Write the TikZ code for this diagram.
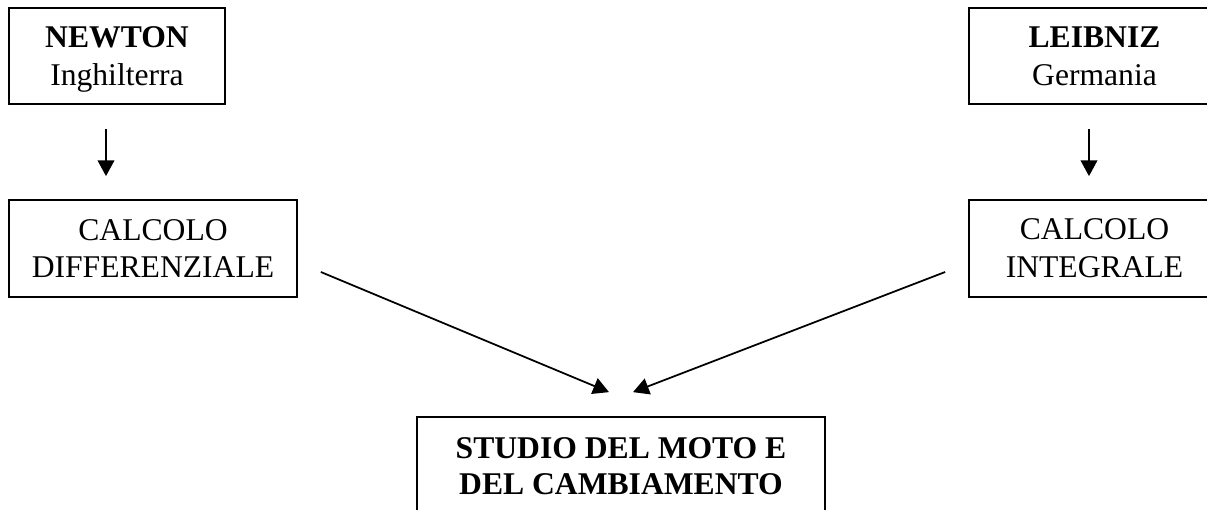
\documentclass[tikz,border=0pt]{standalone}
\usepackage{fontspec}
\setmainfont{Liberation Serif}
\usetikzlibrary{arrows.meta}
\tikzset
{
    namebox/.style   = {rectangle, draw=black, line width=1pt, align=center, inner sep=0pt, text depth=0pt, font=\fontsize{18}{21.5}\selectfont},
    calcbox/.style   = {rectangle, draw=black, line width=1pt, align=center, inner sep=0pt, font=\fontsize{18}{21.5}\selectfont},
    resultbox/.style = {rectangle, draw=black, line width=1pt, align=center, inner sep=0pt, font=\fontsize{18}{20.5}\selectfont\bfseries},
    link/.style      = {-{Triangle[length=9pt,width=9.5pt]}, line width=1pt}
}

\begin{document}
\begin{tikzpicture}[x=0.02cm, y=-0.02cm]
\useasboundingbox (0,0) rectangle (1207,510);
% top row
\node[namebox, minimum width=4.32cm, minimum height=1.92cm] (newton) at (117,56) {\textbf{NEWTON}\\Inghilterra};
\node[namebox, minimum width=5.02cm, minimum height=1.92cm] (leibniz) at (1094.5,56) {\textbf{LEIBNIZ}\\Germania};
% middle row
\node[calcbox, minimum width=5.76cm, minimum height=1.94cm] (diff) at (153,248.5) {CALCOLO\\DIFFERENZIALE};
\node[calcbox, minimum width=5.02cm, minimum height=1.94cm] (integ) at (1094.5,248.5) {CALCOLO\\INTEGRALE};
% bottom
\node[resultbox, minimum width=8.16cm, minimum height=1.96cm] (studio) at (621,466) {STUDIO DEL MOTO E\\DEL CAMBIAMENTO};

\draw[link] ([shift={(-11,24)}]newton.south) -- ([shift={(-47,-23)}]diff.north);
\draw[link] ([shift={(-5.5,24)}]leibniz.south) -- ([shift={(-5.5,-23)}]integ.north);
\draw[link] ([shift={(23,23.5)}]diff.east) -- ([shift={(-12,-24)}]studio.north);
\draw[link] ([shift={(-23,23.5)}]integ.west) -- ([shift={(12,-24)}]studio.north);
\end{tikzpicture}
\end{document}
